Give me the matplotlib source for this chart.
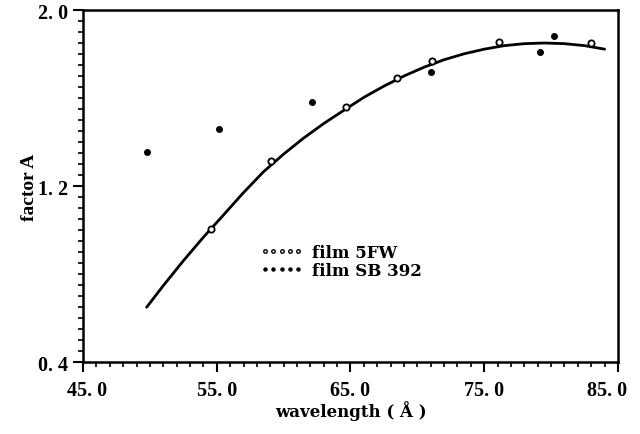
import matplotlib
matplotlib.use("Agg")
import matplotlib.pyplot as plt
from matplotlib.lines import Line2D
from matplotlib.ticker import MultipleLocator, FixedLocator
import matplotlib.transforms as mtransforms

# ---- data ----
curve_x = [49.76, 51.0, 52.5, 54.0, 55.5, 57.0, 58.5, 60.0, 61.5, 63.0, 64.5,
           66.0, 67.5, 69.0, 70.5, 72.0, 73.5, 75.0, 76.5, 78.0, 79.5, 81.0,
           82.5, 84.0]
curve_y = [0.649, 0.747, 0.860, 0.967, 1.068, 1.170, 1.265, 1.345, 1.418, 1.484,
           1.544, 1.603, 1.654, 1.700, 1.740, 1.774, 1.801, 1.822, 1.838, 1.847,
           1.850, 1.847, 1.838, 1.822]

fw_x = [54.57, 59.03, 64.70, 68.45, 71.10, 76.10, 82.96]
fw_y = [1.005, 1.315, 1.558, 1.690, 1.770, 1.856, 1.850]

sb_x = [49.76, 55.19, 62.10, 71.00, 79.17, 80.20]
sb_y = [1.356, 1.459, 1.580, 1.717, 1.808, 1.880]

xticks = [45.0, 55.0, 65.0, 75.0, 85.0]
xtick_labels = ["45. 0", "55. 0", "65. 0", "75. 0", "85. 0"]
yticks = [0.4, 1.2, 2.0]
ytick_labels = ["0. 4", "1. 2", "2. 0"]

serif = ["Liberation Serif", "DejaVu Serif"]
wide = ["DejaVu Serif"]
plt.rcParams["font.family"] = serif
plt.rcParams["font.weight"] = "bold"

fig = plt.figure(figsize=(6.4, 4.35), dpi=100)
ax = fig.add_axes([0.1297, 0.1655, 0.9656 - 0.1297, 0.9747 - 0.1655])

ax.plot(curve_x, curve_y, color="black", lw=2.0, solid_capstyle="round",
        solid_joinstyle="round")
ax.plot(fw_x, fw_y, linestyle="none", marker="o", ms=4.5, mfc="white",
        mec="black", mew=1.3, label="film 5FW")
ax.plot(sb_x, sb_y, linestyle="none", marker="o", ms=4, mfc="black",
        mec="black", label="film SB 392")

ax.set_xlim(45, 85)
ax.set_ylim(0.4, 2.0)

ax.xaxis.set_major_locator(FixedLocator(xticks))
ax.set_xticklabels(xtick_labels)
ax.xaxis.set_minor_locator(MultipleLocator(1))
ax.yaxis.set_major_locator(FixedLocator(yticks))
ax.set_yticklabels(ytick_labels)
ax.yaxis.set_minor_locator(MultipleLocator(0.05))

ax.tick_params(axis="both", which="major", direction="out", length=7, width=1.5,
               labelsize=14.5, pad=4)
ax.tick_params(axis="both", which="minor", direction="out", length=3.5, width=1.2)
ax.tick_params(axis="x", which="major", pad=6)

for s in ax.spines.values():
    s.set_linewidth(1.8)

# nudge end x labels like the reference
labs = ax.get_xticklabels()
labs[0].set_transform(labs[0].get_transform() +
                      mtransforms.ScaledTranslation(4 / 100, 0, fig.dpi_scale_trans))
labs[-1].set_transform(labs[-1].get_transform() +
                       mtransforms.ScaledTranslation(-11 / 100, 0, fig.dpi_scale_trans))

ax.set_xlabel("wavelength ( Å )", fontsize=12, fontweight="bold", labelpad=0,
              family=wide)
ax.set_ylabel("factor A", fontsize=14, fontweight="bold", labelpad=0)

handles = [Line2D([], [], linestyle="none", marker="o", ms=2.5, mfc="white",
                  mec="black", mew=1.0),
           Line2D([], [], linestyle="none", marker="o", ms=2.2, mfc="black",
                  mec="black")]
leg = ax.legend(handles, ["film 5FW", "film SB 392"], loc="upper left",
                bbox_to_anchor=(0.315, 0.36), frameon=False, numpoints=5,
                handlelength=2.6, handletextpad=0.5, labelspacing=0.1,
                borderpad=0, prop={"family": wide, "weight": "bold", "size": 12})

fig.savefig("out.png", dpi=100)
